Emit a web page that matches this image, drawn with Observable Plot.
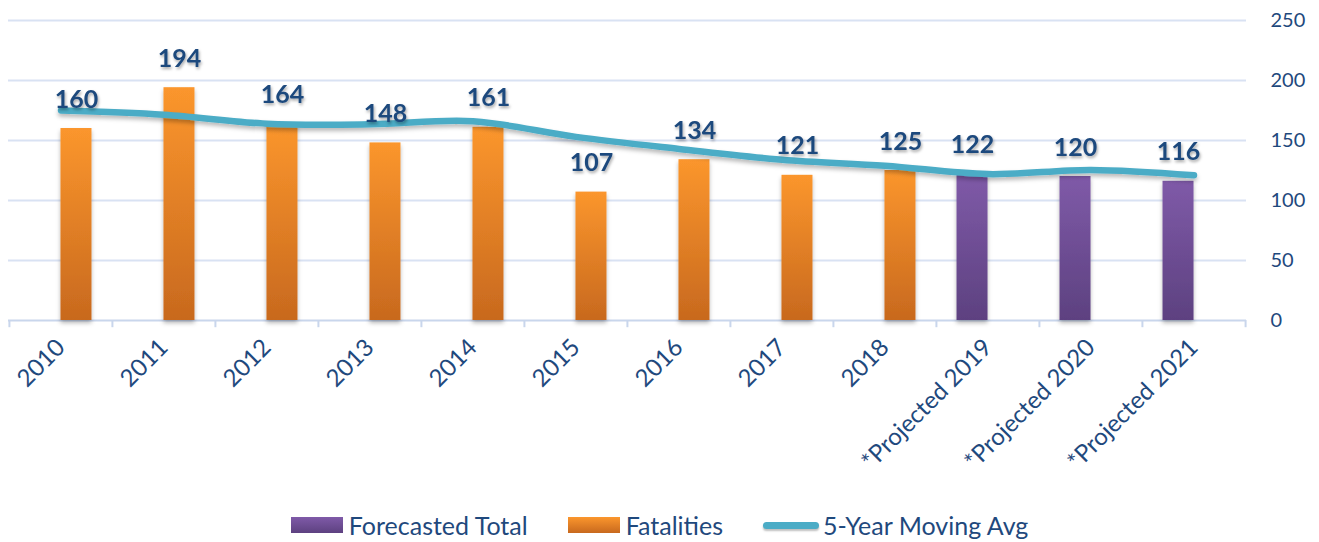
<!DOCTYPE html>
<html>
<head>
<meta charset="utf-8">
<script src="https://cdn.jsdelivr.net/npm/d3@7"></script>
<script src="https://cdn.jsdelivr.net/npm/@observablehq/plot@0.6"></script>
<style>
  html, body { margin: 0; padding: 0; background: #fff; }
  #chart svg { display: block; }
  #legend { display: flex; justify-content: center; align-items: center; height: 34px;
    font-family: Lato, "Open Sans", sans-serif; font-size: 25px; color: #1f497d; padding-left: 0px; }
  .item { display: flex; align-items: center; margin: 0 20px; }
  .sw { width: 52px; height: 16px; margin-right: 6px; }
  .ln { width: 56px; height: 7px; border-radius: 4px; background: #4bacc6; margin-right: 4px; box-shadow: 0 2px 2px rgba(0,0,0,0.25); }
</style>
</head>
<body>
<div id="chart"></div>
<div id="legend"></div>
<script>
const categories = ["2010", "2011", "2012", "2013", "2014", "2015", "2016", "2017", "2018",
  "*Projected 2019", "*Projected 2020", "*Projected 2021"];
const fatalities = [160, 194, 164, 148, 161, 107, 134, 121, 125, null, null, null];
const forecasted = [null, null, null, null, null, null, null, null, null, 122, 120, 116];
const movingAvg = [175, 171.5, 164, 163.5, 166, 153, 143, 134, 129, 122, 125.5, 121];
const yTicks = [0, 50, 100, 150, 200, 250];
const seriesNames = ["Forecasted Total", "Fatalities", "5-Year Moving Avg"];

const rows = categories.map((c, i) => ({cat: c, fat: fatalities[i], fc: forecasted[i], avg: movingAvg[i]}));
const fatRows = rows.filter(d => d.fat != null);
const fcRows = rows.filter(d => d.fc != null);

const W = 1319, H = 508, ML = 8, MR = 73, MT = 20, MB = 188;
const step = (W - ML - MR) / categories.length;
const bw = step * 0.3;
const textColor = "#1f497d";

const defs = () => {
  const d = d3.create("svg:defs");
  const g1 = d.append("linearGradient").attr("id", "gOrange").attr("x1", 0).attr("y1", 0).attr("x2", 0).attr("y2", 1);
  g1.append("stop").attr("offset", "0%").attr("stop-color", "#fb962d");
  g1.append("stop").attr("offset", "100%").attr("stop-color", "#c8691e");
  const g2 = d.append("linearGradient").attr("id", "gPurple").attr("x1", 0).attr("y1", 0).attr("x2", 0).attr("y2", 1);
  g2.append("stop").attr("offset", "0%").attr("stop-color", "#7f5aa8");
  g2.append("stop").attr("offset", "100%").attr("stop-color", "#5d4180");
  const f = d.append("filter").attr("id", "shadow").attr("filterUnits", "userSpaceOnUse")
    .attr("x", 0).attr("y", 0).attr("width", W).attr("height", H);
  f.append("feDropShadow").attr("dx", 0).attr("dy", 3).attr("stdDeviation", 2).attr("flood-color", "#000").attr("flood-opacity", 0.28);
  const f2 = d.append("filter").attr("id", "tshadow").attr("filterUnits", "userSpaceOnUse")
    .attr("x", 0).attr("y", 0).attr("width", W).attr("height", H);
  f2.append("feDropShadow").attr("dx", 1).attr("dy", 2).attr("stdDeviation", 1.5).attr("flood-color", "#000").attr("flood-opacity", 0.35);
  return d.node();
};

const chart = Plot.plot({
  width: W, height: H,
  marginLeft: ML, marginRight: MR, marginTop: MT, marginBottom: MB,
  style: {fontFamily: "Lato, 'Open Sans', sans-serif", background: "#fff", overflow: "visible"},
  x: {domain: categories, paddingInner: 0.7, paddingOuter: 0.35, axis: null, label: null},
  y: {domain: [0, 250], axis: null, label: null},
  marks: [
    defs,
    Plot.ruleY(yTicks.filter(t => t > 0), {stroke: "#d9e2f3", strokeWidth: 2}),
    Plot.ruleX(categories, {x: d => d, dx: -step / 2, y1: 0, y2: -6, stroke: "#c9d6ec", strokeWidth: 2}),
    Plot.ruleX(categories.slice(-1), {x: d => d, dx: step / 2, y1: 0, y2: -6, stroke: "#c9d6ec", strokeWidth: 2}),
    Plot.ruleY([0], {stroke: "#c9d6ec", strokeWidth: 2}),
    Plot.barY(fatRows, {x: "cat", y: "fat", fill: "url(#gOrange)", dx: bw / 2}),
    Plot.barY(fcRows, {x: "cat", y: "fc", fill: "url(#gPurple)", dx: -bw / 2}),
    Plot.line(rows, {x: "cat", y: "avg", curve: "catmull-rom", stroke: "#4bacc6", strokeWidth: 6.5, strokeLinecap: "round"}),
    Plot.text(fatRows, {x: "cat", y: "fat", text: d => String(d.fat), dx: bw / 2, dy: -29, fontSize: 25, fontWeight: "bold", fill: textColor}),
    Plot.text(fcRows, {x: "cat", y: "fc", text: d => String(d.fc), dx: -bw / 2, dy: -29, fontSize: 25, fontWeight: "bold", fill: textColor}),
    Plot.axisX({tickRotate: -45, tickSize: 0, tickPadding: 23, fontSize: 24, fill: textColor, label: null}),
    Plot.axisY({anchor: "right", ticks: yTicks, tickSize: 0, tickPadding: 24, fontSize: 20, fill: textColor, label: null})
  ]
});

d3.select(chart).selectAll("g[aria-label='line'], g[aria-label='bar']").attr("filter", "url(#shadow)");
d3.select(chart).selectAll("g[aria-label='text']").attr("filter", "url(#tshadow)");
document.getElementById("chart").appendChild(chart);

const legend = document.getElementById("legend");
const sw = [
  {name: seriesNames[0], cls: "sw", bg: "linear-gradient(#7f5aa8, #5d4180)"},
  {name: seriesNames[1], cls: "sw", bg: "linear-gradient(#fb962d, #c8691e)"},
  {name: seriesNames[2], cls: "ln", bg: null}
];
for (const s of sw) {
  const it = document.createElement("div"); it.className = "item";
  const b = document.createElement("div"); b.className = s.cls; if (s.bg) b.style.background = s.bg;
  const t = document.createElement("span"); t.textContent = s.name;
  it.appendChild(b); it.appendChild(t); legend.appendChild(it);
}
</script>
</body>
</html>
